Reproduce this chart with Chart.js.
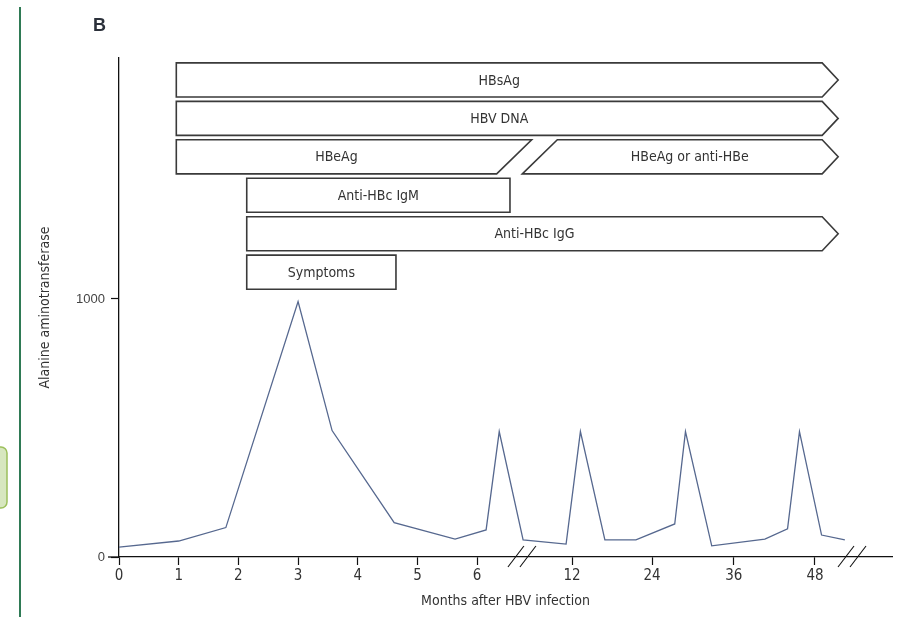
<!DOCTYPE html>
<html>
<head>
<meta charset="utf-8">
<script src="https://cdn.jsdelivr.net/npm/chart.js@4/dist/chart.umd.min.js"></script>
<style>
  html, body { margin: 0; padding: 0; background: #fff; }
  canvas { display: block; }
</style>
</head>
<body>
<canvas id="chart" width="900" height="617"></canvas>
<script>
// x is the position along the broken axis (months 0-6 at one per unit, then compressed)
const axisPos = [0, 1.0, 1.79, 3.0, 3.57, 4.61, 5.63, 6.15, 6.37, 6.77, 7.49, 7.73, 8.14, 8.66, 9.31, 9.49, 9.93, 10.82, 11.2, 11.4, 11.77, 12.16];
const alt = [38, 62, 114, 990, 490, 133, 69, 105, 486, 66, 50, 486, 66, 66, 128, 486, 43, 69, 109, 486, 85, 66];

const tickPos = [0, 1, 2, 3, 4, 5, 6, 7.59, 8.93, 10.3, 11.66];
const tickLabels = ['0', '1', '2', '3', '4', '5', '6', '12', '24', '36', '48'];
const yTicks = [0, 1000];
const breakPos = [6.75, 12.28];

const barLabels = ['HBsAg', 'HBV DNA', 'HBeAg', 'HBeAg or anti-HBe', 'Anti-HBc IgM', 'Anti-HBc IgG', 'Symptoms'];
const barRow = [0, 1, 2, 2, 3, 4, 5];
const barStart = [0.96, 0.96, 0.96, 7.05, 2.14, 2.14, 2.14];
const barEnd = [11.78, 11.78, 6.62, 11.78, 6.55, 11.78, 4.64];
const barStartCap = ['flat', 'flat', 'flat', 'slash', 'flat', 'flat', 'flat'];
const barEndCap = ['arrow', 'arrow', 'slash', 'arrow', 'flat', 'arrow', 'flat'];

const narrow = "'Liberation Sans Narrow', 'DejaVu Sans Condensed', sans-serif";

const decorations = {
  id: 'decorations',
  afterDraw(chart) {
    const ctx = chart.ctx;
    const x = chart.scales.x;
    const y = chart.scales.y;
    const y0 = y.getPixelForValue(0);

    ctx.save();
    // page furniture
    ctx.strokeStyle = '#2f7a55';
    ctx.lineWidth = 2;
    ctx.beginPath();
    ctx.moveTo(20, 7);
    ctx.lineTo(20, 617);
    ctx.stroke();

    ctx.fillStyle = '#d7e7bf';
    ctx.strokeStyle = '#9cc05c';
    ctx.lineWidth = 1.5;
    ctx.beginPath();
    ctx.roundRect(-6, 447, 13, 61, 6);
    ctx.fill();
    ctx.stroke();

    ctx.fillStyle = '#2b303a';
    ctx.font = "bold 18px 'Liberation Sans', sans-serif";
    ctx.textBaseline = 'middle';
    ctx.textAlign = 'left';
    ctx.fillText('B', 93, 26);

    // x axis runs a little left of the y axis
    ctx.strokeStyle = '#111';
    ctx.lineWidth = 1.3;
    ctx.beginPath();
    ctx.moveTo(108, y0);
    ctx.lineTo(x.left, y0);
    ctx.stroke();

    // axis break marks
    ctx.lineWidth = 1.1;
    breakPos.forEach(b => {
      const bx = x.getPixelForValue(b);
      [-6, 6].forEach(d => {
        ctx.beginPath();
        ctx.moveTo(bx + d - 8, y0 + 10);
        ctx.lineTo(bx + d + 8, y0 - 11);
        ctx.stroke();
      });
    });

    // status bars
    const rowTop = 1915, rowStep = 149, rowHeight = 132;
    const tip = 16, slant = 17.5;
    ctx.font = '14px ' + narrow;
    ctx.textAlign = 'center';
    ctx.textBaseline = 'middle';
    barLabels.forEach((label, i) => {
      const top = y.getPixelForValue(rowTop - barRow[i] * rowStep);
      const bot = y.getPixelForValue(rowTop - barRow[i] * rowStep - rowHeight);
      const mid = (top + bot) / 2;
      const xs = x.getPixelForValue(barStart[i]);
      const xe = x.getPixelForValue(barEnd[i]);
      ctx.beginPath();
      if (barStartCap[i] === 'slash') {
        ctx.moveTo(xs - slant, bot);
        ctx.lineTo(xs + slant, top);
      } else {
        ctx.moveTo(xs, bot);
        ctx.lineTo(xs, top);
      }
      if (barEndCap[i] === 'arrow') {
        ctx.lineTo(xe, top);
        ctx.lineTo(xe + tip, mid);
        ctx.lineTo(xe, bot);
      } else if (barEndCap[i] === 'slash') {
        ctx.lineTo(xe + slant, top);
        ctx.lineTo(xe - slant, bot);
      } else {
        ctx.lineTo(xe, top);
        ctx.lineTo(xe, bot);
      }
      ctx.closePath();
      ctx.fillStyle = '#fff';
      ctx.fill();
      ctx.strokeStyle = '#3a3a3a';
      ctx.lineWidth = 1.6;
      ctx.stroke();
      const l = barStartCap[i] === 'slash' ? xs + slant : xs;
      const r = barEndCap[i] === 'slash' ? xe - slant : xe;
      ctx.fillStyle = '#333';
      ctx.fillText(label, (l + r) / 2, mid + 1);
    });
    ctx.restore();
  }
};

new Chart(document.getElementById('chart'), {
  type: 'line',
  data: {
    datasets: [{
      data: axisPos.map((p, i) => ({ x: p, y: alt[i] })),
      borderColor: '#56688f',
      borderWidth: 1.3,
      pointRadius: 0,
      tension: 0,
      fill: false
    }]
  },
  options: {
    responsive: false,
    animation: false,
    devicePixelRatio: 1,
    layout: { padding: { top: 58, right: 8, left: 0, bottom: 0 } },
    plugins: { legend: { display: false }, tooltip: { enabled: false } },
    scales: {
      x: {
        type: 'linear',
        min: 0,
        max: 12.95,
        afterBuildTicks: scale => { scale.ticks = tickPos.map(v => ({ value: v })); },
        afterFit: scale => { scale.height = 60; },
        grid: { drawOnChartArea: false, drawTicks: true, tickLength: 8, tickColor: '#111', tickWidth: 1.2 },
        border: { display: true, color: '#111', width: 1.3 },
        ticks: {
          autoSkip: false,
          maxRotation: 0,
          padding: 2,
          color: '#333',
          font: { family: narrow, size: 15 },
          callback: value => tickLabels[tickPos.indexOf(value)] ?? ''
        },
        title: {
          display: true,
          text: 'Months after HBV infection',
          color: '#333',
          font: { family: narrow, size: 14 },
          padding: { top: 0, bottom: 7 }
        }
      },
      y: {
        min: 0,
        max: 1934,
        afterBuildTicks: scale => { scale.ticks = yTicks.map(v => ({ value: v })); },
        afterFit: scale => { scale.width = 119; },
        grid: { drawOnChartArea: false, drawTicks: true, tickLength: 8, tickColor: '#111', tickWidth: 1.2 },
        border: { display: true, color: '#111', width: 1.3 },
        ticks: {
          padding: 6,
          color: '#444',
          font: { family: "'Liberation Sans', sans-serif", size: 13 },
          callback: value => String(value)
        },
        title: {
          display: true,
          text: 'Alanine aminotransferase',
          color: '#333',
          font: { family: narrow, size: 14 },
          padding: { top: 37, bottom: 0 }
        }
      }
    }
  },
  plugins: [decorations]
});
</script>
</body>
</html>
